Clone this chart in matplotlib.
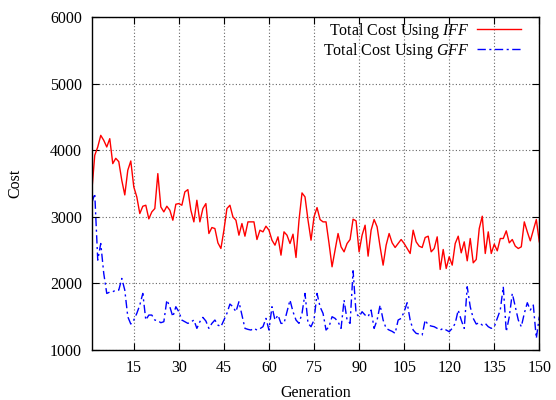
import matplotlib
matplotlib.use("Agg")
import matplotlib.pyplot as plt
import numpy as np

plt.rcParams['font.family'] = ['Liberation Serif', 'DejaVu Serif']
plt.rcParams['mathtext.fontset'] = 'custom'
plt.rcParams['mathtext.rm'] = 'Liberation Serif'
plt.rcParams['mathtext.it'] = 'Liberation Serif:italic'

generations = list(range(1, 151))

cost_iff = [
    3375, 3925, 4050, 4225, 4150, 4050, 4175, 3800, 3880, 3830,
    3550, 3330, 3700, 3840, 3450, 3300, 3050, 3160, 3175, 2970,
    3075, 3125, 3650, 3150, 3075, 3160, 3100, 2950, 3190, 3200,
    3175, 3375, 3410, 3100, 2925, 3250, 2925, 3125, 3200, 2750,
    2840, 2825, 2610, 2525, 2800, 3125, 3175, 3000, 2950, 2725,
    2900, 2710, 2925, 2925, 2925, 2660, 2800, 2775, 2860, 2800,
    2650, 2575, 2700, 2425, 2775, 2725, 2600, 2740, 2390, 2950,
    3360, 3300, 2950, 2650, 3000, 3140, 2960, 2925, 2925, 2600,
    2250, 2500, 2750, 2550, 2475, 2600, 2660, 2965, 2940, 2475,
    2725, 2875, 2410, 2800, 2960, 2850, 2550, 2275, 2575, 2750,
    2610, 2540, 2600, 2660, 2600, 2525, 2450, 2800, 2625, 2560,
    2540, 2690, 2710, 2475, 2525, 2700, 2210, 2510, 2225, 2400,
    2275, 2600, 2710, 2460, 2625, 2340, 2675, 2310, 2360, 2825,
    3010, 2450, 2775, 2450, 2590, 2490, 2675, 2675, 2790, 2610,
    2660, 2560, 2525, 2550, 2925, 2775, 2640, 2800, 2960, 2625,
]

cost_gff = [
    3200, 3350, 2350, 2600, 2150, 1850, 1870, 1875, 1900, 1900,
    2075, 1900, 1500, 1390, 1450, 1550, 1675, 1850, 1450, 1525,
    1525, 1450, 1440, 1410, 1425, 1750, 1650, 1500, 1650, 1575,
    1450, 1425, 1400, 1420, 1450, 1325, 1425, 1490, 1435, 1325,
    1400, 1450, 1375, 1350, 1450, 1550, 1690, 1650, 1575, 1725,
    1525, 1325, 1310, 1300, 1325, 1300, 1320, 1350, 1475, 1300,
    1650, 1450, 1525, 1400, 1400, 1575, 1750, 1575, 1450, 1400,
    1550, 1850, 1400, 1350, 1450, 1850, 1650, 1550, 1300, 1350,
    1500, 1475, 1425, 1325, 1750, 1450, 1400, 2190, 1550, 1500,
    1575, 1525, 1500, 1600, 1325, 1450, 1675, 1450, 1325, 1300,
    1280, 1250, 1450, 1475, 1575, 1710, 1450, 1300, 1250, 1240,
    1225, 1450, 1375, 1360, 1350, 1325, 1300, 1325, 1300, 1275,
    1325, 1400, 1600, 1450, 1325, 1950, 1650, 1475, 1390, 1410,
    1375, 1400, 1350, 1325, 1350, 1475, 1600, 1950, 1275, 1500,
    1850, 1650, 1450, 1350, 1550, 1710, 1600, 1675, 1175, 1500,
]

x_ticks = [15, 30, 45, 60, 75, 90, 105, 120, 135, 150]
y_ticks = [1000, 2000, 3000, 4000, 5000, 6000]

FS = 11.5

fig = plt.figure(figsize=(5.56, 4.0), dpi=100)
ax = fig.add_axes([0.165, 0.125, 0.805, 0.832])

ax.plot(generations, cost_iff, color='#ff0000', lw=1.0,
        label='Total Cost Using $\\it{IFF}$')
ax.plot(generations, cost_gff, color='#0000ff', lw=1.0,
        dashes=(6, 2.5, 1.5, 2.5), label='Total Cost Using $\\it{GFF}$')

ax.set_xlim(1, 150)
ax.set_ylim(1000, 6000)
ax.set_xticks(x_ticks)
ax.set_yticks(y_ticks)
ax.grid(True, color='#666666', linestyle=(0, (1, 2)), lw=0.8)
ax.tick_params(direction='in', top=True, right=True, length=5, width=0.8,
               labelsize=FS, pad=7)
for s in ax.spines.values():
    s.set_linewidth(1.0)

ax.set_xlabel('Generation', fontsize=FS, labelpad=7)
ax.set_ylabel('Cost', fontsize=FS, labelpad=19)

leg = ax.legend(loc='upper right', bbox_to_anchor=(0.96, 0.99),
                frameon=False, markerfirst=False,
                fontsize=FS, handlelength=2.75, labelspacing=0.0,
                borderaxespad=0.0, borderpad=0.0, handletextpad=0.5)

fig.savefig('out.png', dpi=100)
